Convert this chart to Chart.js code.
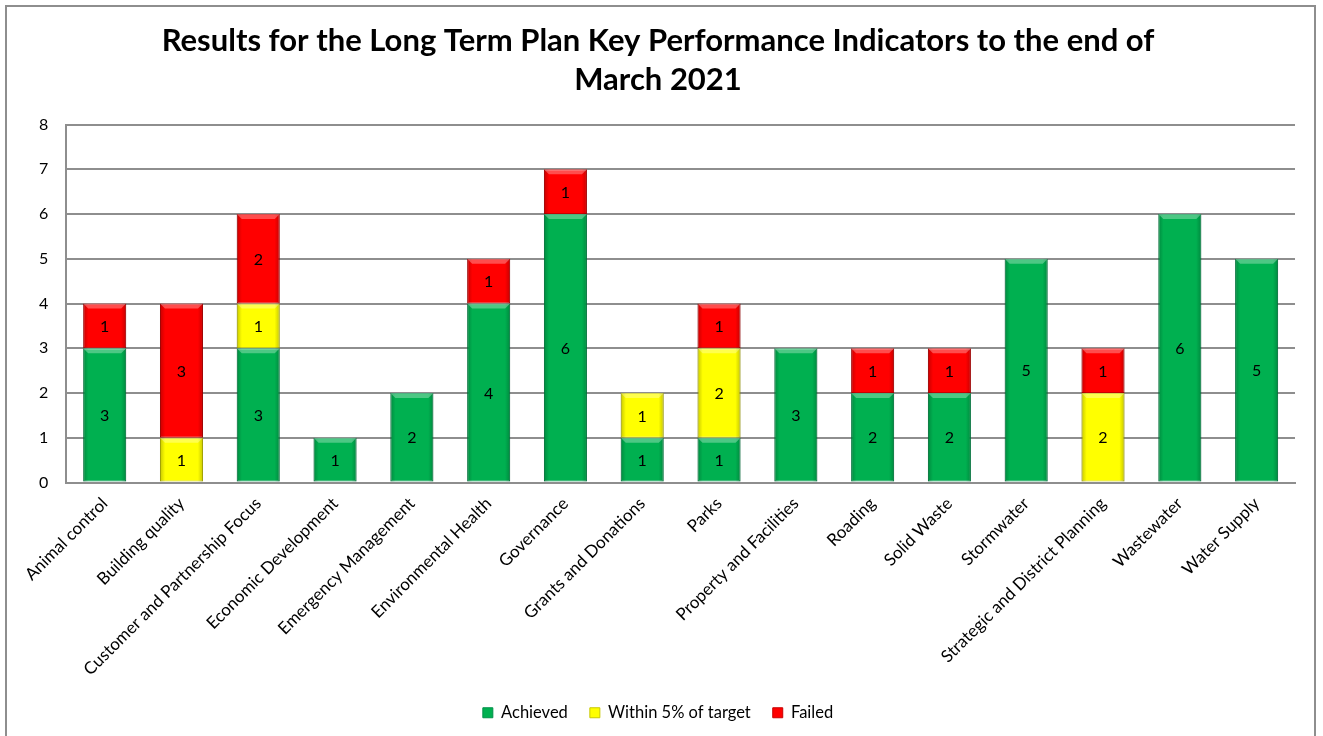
<!DOCTYPE html>
<html>
<head>
<meta charset="utf-8">
<script src="https://cdn.jsdelivr.net/npm/chart.js@4.4.0/dist/chart.umd.min.js"></script>
<style>
  body { margin: 0; background: #fff; }
  #marco { position: absolute; left: 5px; top: 5px; width: 1307px; height: 740px; border: 2px solid #8e8e8e; }
  #lienzo { position: absolute; left: 0; top: 0; width: 1323px; height: 736px; }
</style>
</head>
<body>
<div id="marco"></div>
<div id="lienzo"><canvas id="graficaKPI"></canvas></div>
<script>
const categorias = ['Animal control', 'Building quality', 'Customer and Partnership Focus', 'Economic Development',
  'Emergency Management', 'Environmental Health', 'Governance', 'Grants and Donations', 'Parks',
  'Property and Facilities', 'Roading', 'Solid Waste', 'Stormwater', 'Strategic and District Planning',
  'Wastewater', 'Water Supply'];
const logrados = [3, 0, 3, 1, 2, 4, 6, 1, 1, 3, 2, 2, 5, 0, 6, 5];
const dentro5 = [0, 1, 1, 0, 0, 0, 0, 1, 2, 0, 0, 0, 0, 2, 0, 0];
const fallidos = [1, 3, 2, 0, 0, 1, 1, 0, 1, 0, 1, 1, 0, 1, 0, 0];
const ticksY = [0, 1, 2, 3, 4, 5, 6, 7, 8];

const fuente = 'Lato, "Open Sans", sans-serif';

// sombreado tipo bisel (bordes oscuros + brillo arriba) y etiquetas de valor
const etiquetasPlugin = {
  id: 'etiquetas',
  afterDatasetsDraw(chart) {
    const ctx = chart.ctx;
    ctx.save();
    chart.data.datasets.forEach((ds, i) => {
      chart.getDatasetMeta(i).data.forEach((bar, j) => {
        if (!ds.data[j]) return;
        const izq = bar.x - bar.width / 2, der = bar.x + bar.width / 2;
        const arriba = Math.min(bar.y, bar.base), abajo = Math.max(bar.y, bar.base);
        const g = ctx.createLinearGradient(izq, 0, der, 0);
        g.addColorStop(0, 'rgba(0,0,0,0.22)');
        g.addColorStop(0.12, 'rgba(0,0,0,0)');
        g.addColorStop(0.88, 'rgba(0,0,0,0)');
        g.addColorStop(1, 'rgba(0,0,0,0.22)');
        ctx.fillStyle = g;
        ctx.fillRect(izq, arriba, bar.width, abajo - arriba);
        ctx.fillStyle = 'rgba(255,255,255,0.3)';
        ctx.beginPath();
        ctx.moveTo(izq, arriba);
        ctx.lineTo(der, arriba);
        ctx.lineTo(der - 5, arriba + 5);
        ctx.lineTo(izq + 5, arriba + 5);
        ctx.closePath();
        ctx.fill();
      });
    });
    ctx.font = '16px ' + fuente;
    ctx.fillStyle = '#000';
    ctx.textAlign = 'center';
    ctx.textBaseline = 'middle';
    chart.data.datasets.forEach((ds, i) => {
      chart.getDatasetMeta(i).data.forEach((bar, j) => {
        if (!ds.data[j]) return;
        ctx.fillText(ds.data[j], bar.x, (bar.y + bar.base) / 2 + 1);
      });
    });
    ctx.restore();
  }
};

const serie = (nombre, datos, color, borde) => ({
  label: nombre,
  data: datos,
  backgroundColor: color,
  borderColor: borde,
  borderWidth: 1,
  borderSkipped: false,
  barPercentage: 0.56,
  categoryPercentage: 1
});

new Chart(document.getElementById('graficaKPI').getContext('2d'), {
  type: 'bar',
  data: {
    labels: categorias,
    datasets: [
      serie('Achieved', logrados, '#00b050', '#00904a'),
      serie('Within 5% of target', dentro5, '#ffff00', '#c8c800'),
      serie('Failed', fallidos, '#ff0000', '#c80000')
    ]
  },
  options: {
    responsive: true,
    maintainAspectRatio: false,
    animation: false,
    layout: { padding: { left: 21, right: 28, top: 14, bottom: 5 } },
    plugins: {
      title: {
        display: true,
        text: ['Results for the Long Term Plan Key Performance Indicators to the end of', 'March 2021'],
        color: '#000',
        font: { family: fuente, size: 31, weight: 'bold', lineHeight: 1.25 },
        padding: { top: 8, bottom: 25 }
      },
      legend: {
        position: 'bottom',
        labels: {
          color: '#000',
          font: { family: fuente, size: 16.5 },
          boxWidth: 10,
          boxHeight: 10,
          padding: 22
        }
      },
      tooltip: { enabled: false }
    },
    scales: {
      x: {
        stacked: true,
        grid: { display: false },
        border: { color: '#8e8e8e', width: 2 },
        ticks: {
          color: '#000',
          font: { family: fuente, size: 17 },
          minRotation: 45,
          maxRotation: 45,
          autoSkip: false
        }
      },
      y: {
        stacked: true,
        min: 0,
        max: 8,
        afterBuildTicks: (eje) => { eje.ticks = ticksY.map(v => ({ value: v })); },
        grid: { color: '#8e8e8e', lineWidth: 2, drawTicks: false },
        border: { color: '#8e8e8e', width: 2 },
        ticks: {
          color: '#000',
          font: { family: fuente, size: 16 },
          padding: 18
        }
      }
    }
  },
  plugins: [etiquetasPlugin]
});
</script>
</body>
</html>
